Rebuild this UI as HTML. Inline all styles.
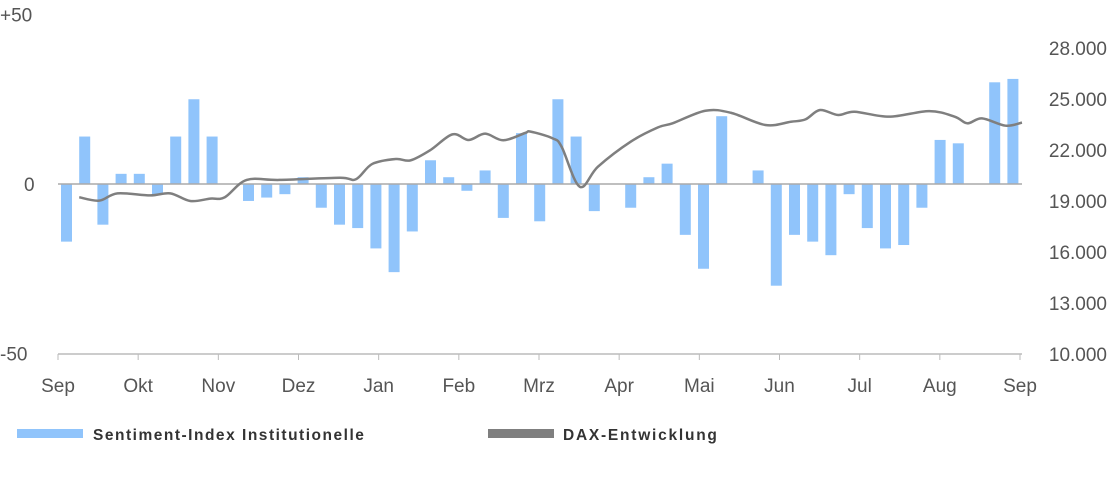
<!DOCTYPE html>
<html><head><meta charset="utf-8"><style>
body{margin:0;background:#fff;width:1110px;height:494px;overflow:hidden;font-family:"Liberation Sans",sans-serif}
svg text{font-family:"Liberation Sans",sans-serif}
</style></head><body>
<svg id="chart" width="1110" height="494" viewBox="0 0 1110 494"></svg>
<script>
const sentiment=[-17,14,-12,3,3,-3,14,25,14,0,-5,-4,-3,2,-7,-12,-13,-19,-26,-14,7,2,-2,4,-10,15,-11,25,14,-8,0,-7,2,6,-15,-25,20,0,4,-30,-15,-17,-21,-3,-13,-19,-18,-7,13,12,0,30,31];
const daxWeek=[0.7,1.8,2.8,4.6,5.7,6.8,7.9,8.7,9.9,11.7,15.0,15.9,16.8,18.1,18.9,20.0,21.2,22.1,23.0,24.0,25.2,25.5,26.7,27.2,28.2,29.2,31.0,32.5,33.3,35.1,36.5,38.4,39.8,40.6,41.4,42.4,43.3,45.2,47.4,48.8,49.5,50.3,51.6,52.5];
const daxValue=[19220,19020,19450,19330,19450,19000,19140,19220,20240,20240,20370,20280,21180,21470,21390,22000,22920,22590,22960,22570,23000,23080,22690,22200,19840,21020,22490,23330,23570,24310,24190,23470,23660,23800,24350,24060,24250,23960,24290,23960,23570,23860,23430,23610];
const months=["Sep","Okt","Nov","Dez","Jan","Feb","Mrz","Apr","Mai","Jun","Jul","Aug","Sep"];
const leftTicks=[{v:50,l:"+50"},{v:0,l:"0"},{v:-50,l:"-50"}];
const rightTicks=[10000,13000,16000,19000,22000,25000,28000];

const NS="http://www.w3.org/2000/svg";
const svg=document.getElementById('chart');
function mk(t,a,p){const e=document.createElementNS(NS,t);for(const k in a)e.setAttribute(k,a[k]);(p||svg).appendChild(e);return e;}
const yL=v=>184-v*3.39;
const yR=v=>354-(v-10000)/1000*17;
const xW=w=>66.5+w*18.2;
const xM=i=>58+i*(1020-58)/12;

months.forEach((m,i)=>{
  const t=mk('line',{x1:xM(i),x2:xM(i),y1:354,y2:360,stroke:'#bbb','stroke-width':1});
  
  
  const tx=mk('text',{x:xM(i),y:392,'text-anchor':'middle','font-size':19,fill:'#555'});
  tx.textContent=m;
  
  
});
leftTicks.forEach(t=>{
  const tx=mk('text',{x:t.v===0?24:0,y:yL(t.v)+7,'font-size':19,fill:'#555'});
  tx.textContent=t.l;
  
  
});
rightTicks.forEach(v=>{
  const tx=mk('text',{x:1107,y:yR(v)+7,'text-anchor':'end','font-size':19,fill:'#555'});
  tx.textContent=v.toLocaleString('de-DE');
  
  
});
sentiment.forEach((v,i)=>{
  if(v===0)return;
  const y0=yL(Math.max(v,0)),h=Math.abs(v)*3.39;
  const r=mk('rect',{x:xW(i)-5.5,y:y0,width:11,height:h,fill:'#90c4fb'});
  
  
});
const zl=mk('line',{x1:58,x2:1022,y1:184,y2:184,stroke:'#aaa','stroke-width':1.5});


const ax=mk('line',{x1:58,x2:1022,y1:354,y2:354,stroke:'#bbb','stroke-width':1.5});


const pts=daxWeek.map((w,i)=>[xW(w),yR(daxValue[i])]);
let d='M'+pts[0][0]+','+pts[0][1];
for(let i=0;i<pts.length-1;i++){
  const p0=pts[Math.max(i-1,0)],p1=pts[i],p2=pts[i+1],p3=pts[Math.min(i+2,pts.length-1)];
  const c1=[p1[0]+(p2[0]-p0[0])/6,p1[1]+(p2[1]-p0[1])/6];
  const c2=[p2[0]-(p3[0]-p1[0])/6,p2[1]-(p3[1]-p1[1])/6];
  d+=` C${c1[0]},${c1[1]} ${c2[0]},${c2[1]} ${p2[0]},${p2[1]}`;
}
const ln=mk('path',{d:d,fill:'none',stroke:'#7f7f7f','stroke-width':2.5});


const l1=mk('rect',{x:17,y:429,width:66,height:9,fill:'#90c4fb'});


const t1=mk('text',{x:93,y:440,'font-size':15.5,'font-weight':'bold',fill:'#333','letter-spacing':'1.1',textLength:272});
t1.textContent='Sentiment-Index Institutionelle';


const l2=mk('rect',{x:488,y:429,width:66,height:9,fill:'#7f7f7f'});


const t2=mk('text',{x:563,y:440,'font-size':15.5,'font-weight':'bold',fill:'#333','letter-spacing':'1.1',textLength:155});
t2.textContent='DAX-Entwicklung';


</script>
</body></html>
